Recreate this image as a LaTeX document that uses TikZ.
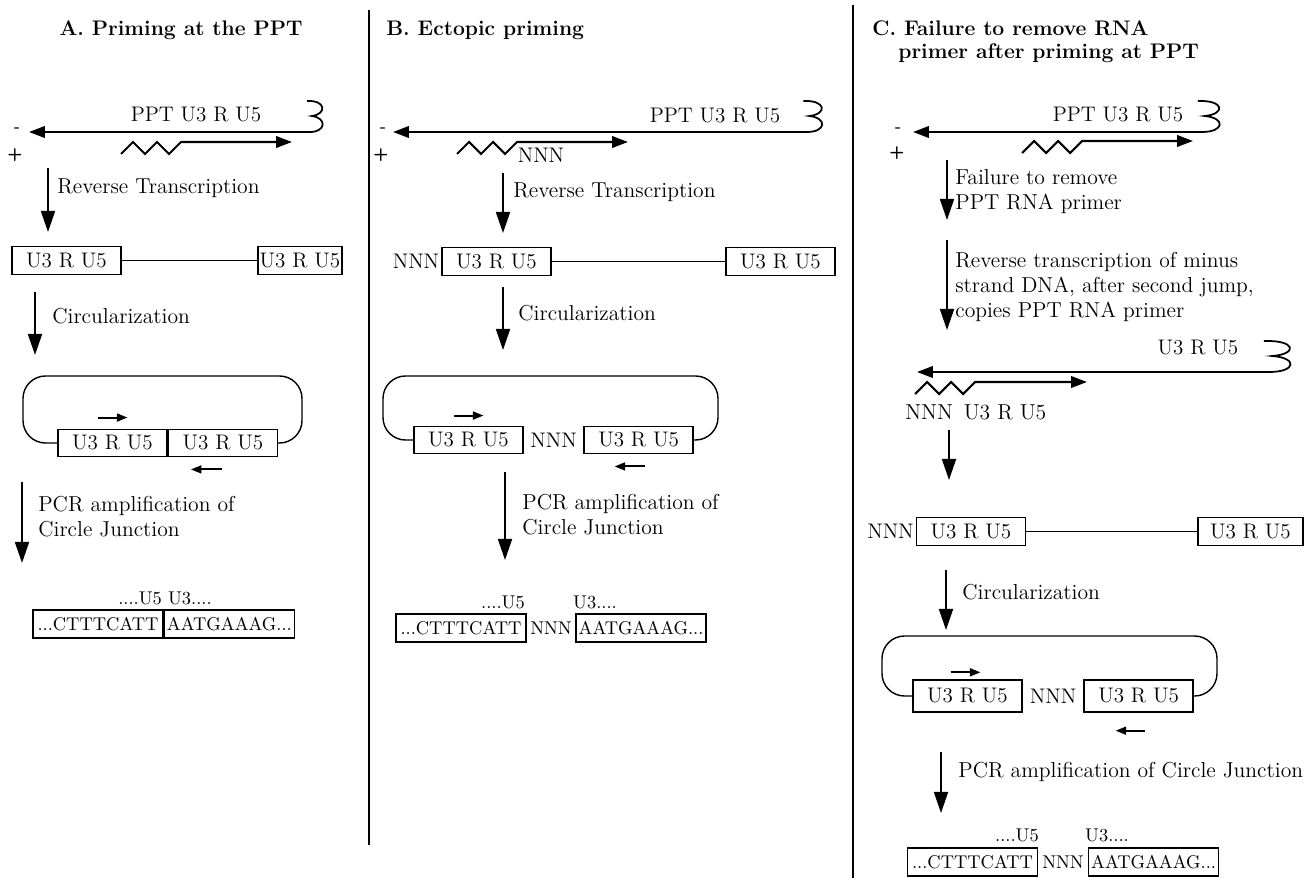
\documentclass[tikz,border=0pt]{standalone}
\usetikzlibrary{arrows.meta, positioning}

\begin{document}
\begin{tikzpicture}[
  x=0.02cm, y=-0.02cm,
  font=\fontsize{12}{14.2}\selectfont,
  title/.style={
    font=\fontsize{12}{14}\selectfont\bfseries,
    anchor=west,
    inner sep=0pt,
  },
  note/.style={
    anchor=west,
    align=left,
    inner sep=0pt,
    font=\fontsize{12.3}{14.2}\selectfont,
  },
  ltr/.style={
    draw=black,
    line width=0.8pt,
    minimum width=2.18cm,
    minimum height=0.55cm,
    inner sep=1pt,
  },
  jbox/.style={
    draw=black,
    line width=0.8pt,
    minimum width=2.6cm,
    minimum height=0.56cm,
    inner sep=1pt,
    font=\fontsize{10.5}{12}\selectfont,
  },
  seq/.style={
    inner sep=0pt,
    font=\fontsize{10.5}{12}\selectfont,
  },
  sign/.style={
    font=\sffamily\bfseries,
    inner sep=0pt,
  },
  divider/.style={line width=1pt},
  flow/.style={line width=1pt, -{Triangle[length=12pt, width=8pt]}},
  strand/.style={line width=1.2pt, -{Triangle[length=9pt, width=6.5pt]}},
  primer/.style={line width=1.1pt, -{Triangle[length=6pt, width=4.5pt]}},
  loop/.style={line width=0.8pt, rounded corners=0.45cm},
  rnaend/.pic={
    \draw[line width=1pt] (0,0) -- (10,0)
      .. controls (26,0) and (27,-14) .. (12,-16)
      .. controls (27,-18) and (26,-32) .. (7,-31);
  },
]
  \useasboundingbox (0,0) rectangle (1304,878);

  % === dividers ===
  \coordinate (d1-top) at (369,10);
  \coordinate (d1-bot) at (369,845);
  \coordinate (d2-top) at (853,5);
  \coordinate (d2-bot) at (853,878);
  \draw[divider] (d1-top) -- (d1-bot);
  \draw[divider] (d2-top) -- (d2-bot);

  % === A. Priming at the PPT ===
  \node[title, anchor=center] (a-title) at (181,30) {A. Priming at the PPT};

  % template and plus strand
  \node[sign] (a-minus) at (17,130) {-};
  \node[sign] (a-plus) at (15,155) {+};
  \coordinate (a-tip) at (29,132);
  \coordinate (a-end) at (300,132);
  \draw[strand] (a-end) -- (a-tip);
  \pic at (a-end) {rnaend};
  \node (a-rna) at (196,115) {PPT U3 R U5};
  \coordinate (a-zz) at (121,154);
  \coordinate (a-fwd) at (292,142);
  \draw[strand] (a-zz) -- ++(12,-12) -- ++(12,12) -- ++(12,-12) -- ++(12,12) -- ++(12,-12) -- (a-fwd);

  % reverse transcription
  \coordinate (a-s1) at (48,168);
  \coordinate (a-e1) at (48,232);
  \draw[flow] (a-s1) -- (a-e1);
  \node[note] (a-rt) at (57,188) {Reverse Transcription};

  \node[ltr] (a-l) at (66.5,260.5) {U3 R U5};
  \node[ltr, minimum width=1.64cm] (a-r) at (300,260.5) {U3 R U5};
  \draw[line width=0.8pt] (a-l) -- (a-r);

  % circularization
  \coordinate (a-s2) at (35,292);
  \coordinate (a-e2) at (35,355);
  \draw[flow] (a-s2) -- (a-e2);
  \node[note] (a-circ) at (52,316) {Circularization};

  \node[ltr] (a-c1) at (112.5,443) {U3 R U5};
  \node[ltr, right=0pt of a-c1] (a-c2) {U3 R U5};
  \draw[loop] (a-c1.west) -- (23,443) -- (23,376) -- (302,376) -- (302,443) -- (a-c2.east);
  \draw[primer] ([shift={(-15,-11)}]a-c1.north) -- ++(30,0);
  \draw[primer] ([shift={(-1,12)}]a-c2.south) -- ++(-31,0);

  % PCR
  \coordinate (a-s3) at (22,482);
  \coordinate (a-e3) at (22,563);
  \draw[flow] (a-s3) -- (a-e3);
  \node[note] (a-pcr) at (38,517) {PCR amplification of\\Circle Junction};

  \node[seq] (a-jlab) at (165,598) {....U5 U3....};
  \node[jbox] (a-j1) at (98,624) {...CTTTCATT};
  \node[jbox, right=0pt of a-j1] (a-j2) {AATGAAAG...};

  % === B. Ectopic priming ===
  \node[title] (b-title) at (386,30) {B. Ectopic priming};

  \node[sign] (b-minus) at (383,130) {-};
  \node[sign] (b-plus) at (381,155) {+};
  \coordinate (b-tip) at (393,132);
  \coordinate (b-end) at (795,132);
  \draw[strand] (b-end) -- (b-tip);
  \pic[xscale=1.2] at (b-end) {rnaend};
  \node (b-rna) at (715,116) {PPT U3 R U5};
  \coordinate (b-zz) at (457,154);
  \coordinate (b-fwd) at (628,142);
  \draw[strand] (b-zz) -- ++(12,-12) -- ++(12,12) -- ++(12,-12) -- ++(12,12) -- ++(12,-12) -- (b-fwd);
  \node (b-nnn0) at (541,155) {NNN};

  \coordinate (b-s1) at (503,173);
  \coordinate (b-e1) at (503,233);
  \draw[flow] (b-s1) -- (b-e1);
  \node[note] (b-rt) at (513,192) {Reverse Transcription};

  \node[ltr] (b-l) at (496.5,261.5) {U3 R U5};
  \node[inner sep=1pt, left=0pt of b-l] (b-nnn1) {NNN};
  \node[ltr] (b-r) at (780.5,261.5) {U3 R U5};
  \draw[line width=0.8pt] (b-l) -- (b-r);

  \coordinate (b-s2) at (503,287);
  \coordinate (b-e2) at (503,350);
  \draw[flow] (b-s2) -- (b-e2);
  \node[note] (b-circ) at (518,313) {Circularization};

  \node[ltr] (b-c1) at (468.5,440) {U3 R U5};
  \node[inner xsep=0pt, minimum width=1.18cm, right=0pt of b-c1] (b-nnn2) {NNN};
  \node[ltr, right=0pt of b-nnn2] (b-c2) {U3 R U5};
  \draw[loop] (b-c1.west) -- (383,440) -- (383,376) -- (718,376) -- (718,440) -- (b-c2.east);
  \draw[primer] ([shift={(-15,-10)}]b-c1.north) -- ++(30,0);
  \draw[primer] ([shift={(6,12)}]b-c2.south) -- ++(-30,0);

  \coordinate (b-s3) at (505,472);
  \coordinate (b-e3) at (505,560);
  \draw[flow] (b-s3) -- (b-e3);
  \node[note] (b-pcr) at (522,515) {PCR amplification of\\Circle Junction};

  \node[seq] (b-u5) at (503,602) {....U5};
  \node[seq] (b-u3) at (595,602) {U3....};
  \node[jbox] (b-j1) at (461,628) {...CTTTCATT};
  \node[seq, minimum width=0.96cm, right=0pt of b-j1] (b-jn) {NNN};
  \node[jbox, right=0pt of b-jn] (b-j2) {AATGAAAG...};

  % === C. Failure to remove RNA primer after priming at PPT ===
  \node[title] (c-title1) at (872,28) {C. Failure to remove RNA};
  \node[title] (c-title2) at (898,53) {primer after priming at PPT};

  \node[sign] (c-minus) at (898,130) {-};
  \node[sign] (c-plus) at (897,153) {+};
  \coordinate (c-tip) at (913,132);
  \coordinate (c-end) at (1188,132);
  \draw[strand] (c-end) -- (c-tip);
  \pic[xscale=1.4] at (c-end) {rnaend};
  \node (c-rna) at (1118,115) {PPT U3 R U5};
  \coordinate (c-zz) at (1022,153);
  \coordinate (c-fwd) at (1193,141);
  \draw[strand] (c-zz) -- ++(12,-12) -- ++(12,12) -- ++(12,-12) -- ++(12,12) -- ++(12,-12) -- (c-fwd);

  \coordinate (c-s1) at (947,160);
  \coordinate (c-e1) at (947,220);
  \draw[flow] (c-s1) -- (c-e1);
  \node[note] (c-fail) at (955,192) {Failure to remove\\PPT RNA primer};

  \coordinate (c-s2) at (947,240);
  \coordinate (c-e2) at (947,330);
  \draw[flow] (c-s2) -- (c-e2);
  \node[note] (c-rt) at (955,287) {Reverse transcription of minus\\strand DNA, after second jump,\\ copies PPT RNA primer};

  % copied primer
  \node (c-rna2) at (1198,348) {U3 R U5};
  \coordinate (c-tip2) at (917,372);
  \coordinate (c-end2) at (1252,372);
  \draw[strand] (c-end2) -- (c-tip2);
  \pic[xscale=1.7] at (c-end2) {rnaend};
  \coordinate (c-zz2) at (915,394);
  \coordinate (c-fwd2) at (1087,382);
  \draw[strand] (c-zz2) -- ++(12,-12) -- ++(12,12) -- ++(12,-12) -- ++(12,12) -- ++(12,-12) -- (c-fwd2);
  \node[note] (c-copy) at (905,412) {NNN\enspace U3 R U5};

  \coordinate (c-s3) at (949,430);
  \coordinate (c-e3) at (949,480);
  \draw[flow] (c-s3) -- (c-e3);

  \node[ltr] (c-l) at (971,531.5) {U3 R U5};
  \node[inner sep=1pt, left=0pt of c-l] (c-nnn1) {NNN};
  \node[ltr, minimum width=2.1cm] (c-r) at (1250.5,531.5) {U3 R U5};
  \draw[line width=0.8pt] (c-l) -- (c-r);

  \coordinate (c-s4) at (946,570);
  \coordinate (c-e4) at (946,630);
  \draw[flow] (c-s4) -- (c-e4);
  \node[note] (c-circ) at (962,592) {Circularization};

  \node[ltr, minimum height=0.64cm] (c-c1) at (967.5,696) {U3 R U5};
  \node[inner xsep=0pt, minimum width=1.2cm, right=0pt of c-c1] (c-nnn2) {NNN};
  \node[ltr, minimum height=0.64cm, right=0pt of c-nnn2] (c-c2) {U3 R U5};
  \draw[loop] (c-c1.west) -- (882,696) -- (882,636) -- (1217,636) -- (1217,696) -- (c-c2.east);
  \draw[primer] ([shift={(-17,-7)}]c-c1.north) -- ++(30,0);
  \draw[primer] ([shift={(6,18)}]c-c2.south) -- ++(-29,0);

  \coordinate (c-s5) at (941,752);
  \coordinate (c-e5) at (941,813);
  \draw[flow] (c-s5) -- (c-e5);
  \node[note] (c-pcr) at (958,772) {PCR amplification of Circle Junction};

  \node[seq] (c-u5) at (1017,835) {....U5};
  \node[seq] (c-u3) at (1107,835) {U3....};
  \node[jbox] (c-j1) at (972.5,862) {...CTTTCATT};
  \node[seq, minimum width=0.98cm, right=0pt of c-j1] (c-jn) {NNN};
  \node[jbox, right=0pt of c-jn] (c-j2) {AATGAAAG...};

\end{tikzpicture}
\end{document}
